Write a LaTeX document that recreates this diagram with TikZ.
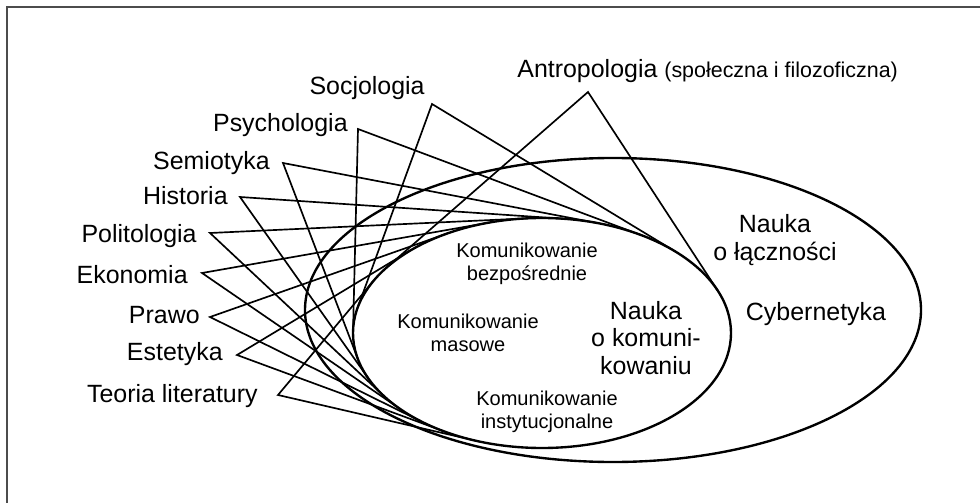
\documentclass[tikz,border=0pt]{standalone}
\usepackage{fontspec}
\setmainfont{Liberation Sans}
\newcommand\aside[1]{{\fontsize{12.2}{14}\selectfont #1}}
\begin{document}
\begin{tikzpicture}[x=0.02cm,y=-0.02cm,
    field/.style={font=\fontsize{14.2}{17}\selectfont, inner sep=0pt},
    big/.style={font=\fontsize{14.2}{15.6}\selectfont, align=center, inner sep=0pt},
    small/.style={font=\fontsize{11.4}{13}\selectfont, align=center, inner sep=0pt},
    rays/.style={line width=0.95pt, line join=miter},
    oval/.style={line width=1.35pt}]
    \useasboundingbox (0,0) rectangle (980,503);
    \draw[gray!60!black, line width=1pt] (7,503) -- (7,7) -- (980,7);

    % the two fields
    \draw[oval] (613,310) ellipse [x radius=308, y radius=152];
    \draw[oval] (542,333) ellipse [x radius=189, y radius=115];

    % every discipline touches the inner field by two tangents
    \foreach \n/\t/\anc/\tx/\ty/\ax/\ay in {
        socjologia/Socjologia/base east/425/95/432/104,
        psychologia/Psychologia/base east/348/132/358/129,
        semiotyka/Semiotyka/base east/270/170/283/163,
        historia/Historia/base east/228/205/240/197,
        politologia/Politologia/base east/197/242/210/233,
        ekonomia/Ekonomia/base east/188/283/202/273,
        prawo/Prawo/base east/200/323/210/317,
        estetyka/Estetyka/base east/223/360/237/355,
        teoria/Teoria literatury/base east/258/402/278/395,
        antropologia/{Antropologia \aside{(społeczna i filozoficzna)}}/base west/517/78/588/92}
    {
        \node[field, anchor=\anc] (\n) at (\tx,\ty) {\t};
        \coordinate (\n-v) at (\ax,\ay);
        \pgfmathsetmacro\ux{(\ax-542)/189}
        \pgfmathsetmacro\uy{(\ay-333)/115}
        \pgfmathsetmacro\angA{atan2(\uy,\ux)}
        \pgfmathsetmacro\angD{acos(1/sqrt(\ux*\ux+\uy*\uy))}
        \coordinate (\n-a) at ({542+189*cos(\angA+\angD)},{333+115*sin(\angA+\angD)});
        \coordinate (\n-b) at ({542+189*cos(\angA-\angD)},{333+115*sin(\angA-\angD)});
        \draw[rays] (\n-a) -- (\n-v) -- (\n-b);
    }

    \node[big] (lacznosc) at (775,240) {Nauka\\o łączności};
    \node[big] (cyber) at (816,314) {Cybernetyka};
    \node[big] (komunikowanie) at (646,338) {Nauka\\o komuni-\\kowaniu};
    \node[small] (bezposr) at (527,264) {Komunikowanie\\bezpośrednie};
    \node[small] (masowe) at (468,333) {Komunikowanie\\masowe};
    \node[small] (instyt) at (547,412) {Komunikowanie\\instytucjonalne};
\end{tikzpicture}
\end{document}
